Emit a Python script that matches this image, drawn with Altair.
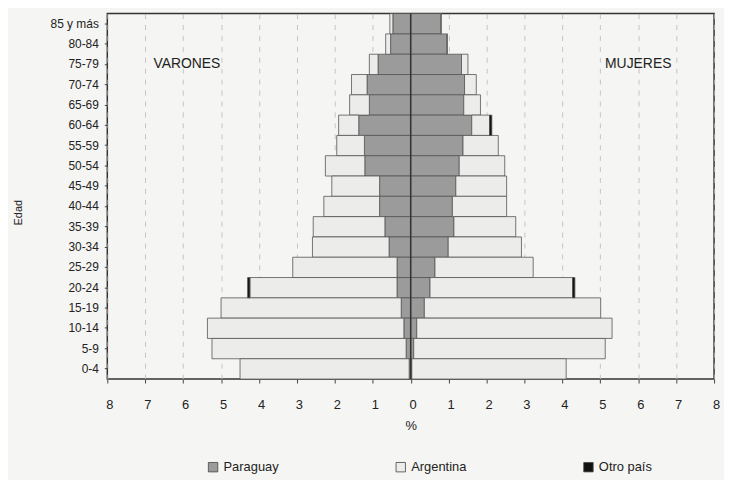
import altair as alt
import pandas as pd

ages = ["85 y más", "80-84", "75-79", "70-74", "65-69", "60-64", "55-59", "50-54", "45-49",
        "40-44", "35-39", "30-34", "25-29", "20-24", "15-19", "10-14", "5-9", "0-4"]

varones_paraguay = [0.47, 0.53, 0.86, 1.15, 1.09, 1.37, 1.22, 1.21, 0.82,
                    0.82, 0.68, 0.57, 0.36, 0.36, 0.25, 0.18, 0.12, 0.04]
varones_argentina = [0.08, 0.13, 0.23, 0.41, 0.52, 0.53, 0.73, 1.04, 1.26,
                     1.47, 1.89, 2.02, 2.75, 3.88, 4.75, 5.18, 5.12, 4.46]
varones_otro = [0, 0, 0, 0, 0, 0, 0, 0, 0,
                0, 0, 0, 0, 0.06, 0, 0, 0, 0]

mujeres_paraguay = [0.79, 0.95, 1.34, 1.42, 1.40, 1.61, 1.38, 1.28, 1.19,
                    1.10, 1.14, 0.99, 0.64, 0.51, 0.36, 0.16, 0.08, 0.03]
mujeres_argentina = [0.02, 0.02, 0.17, 0.31, 0.44, 0.47, 0.93, 1.20, 1.34,
                     1.43, 1.63, 1.93, 2.59, 3.76, 4.65, 5.15, 5.05, 4.07]
mujeres_otro = [0, 0, 0, 0, 0, 0.06, 0, 0, 0,
                0, 0, 0, 0, 0.06, 0, 0, 0, 0]

paises = ["Paraguay", "Argentina", "Otro país"]
colores = ["#9b9b9b", "#ececea", "#111111"]
x_ticks = list(range(-8, 9))

rows = []
for sign, series in [(-1, [varones_paraguay, varones_argentina, varones_otro]),
                     (1, [mujeres_paraguay, mujeres_argentina, mujeres_otro])]:
    for k, (pais, vals) in enumerate(zip(paises, series)):
        for a, v in zip(ages, vals):
            if v > 0:
                rows.append({"edad": a, "pais": pais, "orden": k, "valor": sign * v})
df = pd.DataFrame(rows)

font = "Liberation Sans"

x_scale = alt.Scale(domain=[-8, 8], nice=False, zero=False)
y_scale = alt.Scale(domain=ages, paddingInner=0, paddingOuter=0)

x_axis = alt.Axis(title="%", titleFontSize=13, titleFontWeight="normal",
                  titleColor="#222", titleFont=font, titlePadding=8,
                  values=x_ticks, labelOverlap=False, labelFlush=False,
                  labelExpr="abs(datum.value)", labelOffset=2,
                  labelFont=font, labelFontSize=13, labelColor="#222",
                  labelPadding=16, tickSize=4, tickColor="#444",
                  domain=False, grid=True, gridColor="#b8b8b8",
                  gridDash=[5, 6], gridWidth=0.8)
y_axis = alt.Axis(title="Edad", titleFontSize=11, titleFontWeight="normal",
                  titleColor="#222", titleFont=font, titleX=-84, titleY=200,
                  titleAngle=270, labelFont=font, labelFontSize=12, labelColor="#222",
                  ticks=True, tickSize=3, tickColor="#444", labelPadding=6,
                  domain=False, grid=False)

bars = alt.Chart(df).mark_bar(stroke="#555555", strokeWidth=0.8).encode(
    y=alt.Y("edad:N", scale=y_scale, sort=ages, axis=y_axis),
    x=alt.X("valor:Q", scale=x_scale, stack="zero", axis=x_axis),
    color=alt.Color("pais:N", scale=alt.Scale(domain=paises, range=colores),
                    legend=alt.Legend(title=None, orient="none", direction="horizontal",
                                      legendX=100, legendY=450, columns=3, columnPadding=116,
                                      symbolType="square", symbolSize=90,
                                      symbolStrokeColor="#444", symbolStrokeWidth=0.8,
                                      labelFont=font, labelFontSize=13, labelColor="#222",
                                      labelOffset=4)),
    order=alt.Order("orden:Q"),
)

zero = alt.Chart(pd.DataFrame({"v": [0]})).mark_rule(color="#333", strokeWidth=1.5).encode(
    x=alt.X("v:Q", scale=x_scale, axis=x_axis)
)

etiquetas = pd.DataFrame({"texto": ["VARONES", "MUJERES"], "x": [-5.9, 6.0],
                          "edad": ["75-79", "75-79"]})
textos = alt.Chart(etiquetas).mark_text(font=font, fontSize=14, color="#222").encode(
    x=alt.X("x:Q", scale=x_scale, axis=x_axis),
    y=alt.Y("edad:N", scale=y_scale, sort=ages, axis=y_axis),
    text="texto:N",
)

chart = alt.layer(bars, zero, textos).properties(
    width=611, height=368,
    background="#f5f5f3",
    autosize=alt.AutoSizeParams(type="none"),
    padding={"left": 100, "top": 4, "right": 10, "bottom": 100},
).configure_view(stroke="#333333", strokeWidth=1.5)

chart.save("out.html", embed_options={"renderer": "svg", "actions": False})
